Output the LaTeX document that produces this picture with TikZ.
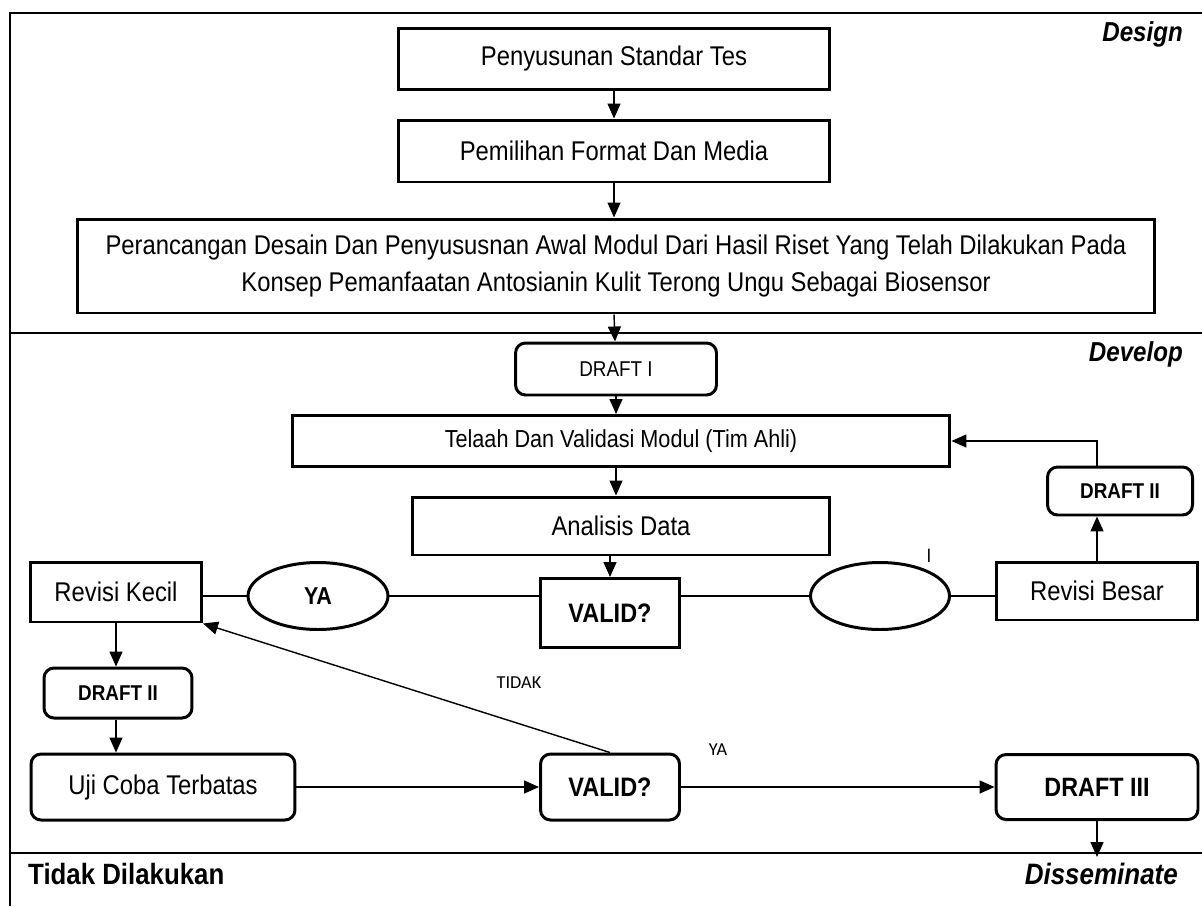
\documentclass[tikz,border=0pt]{standalone}
\usepackage{fontspec}
\setmainfont[FakeStretch=0.88]{Liberation Sans}
\newfontfamily\calfont{Carlito}
\usepackage{tikz}
\usetikzlibrary{shapes.geometric,arrows.meta,positioning,calc}

\tikzset{
    box/.style={draw, line width=1.7pt, inner sep=0pt, align=center, font=\fontsize{15.4}{20.5}\selectfont},
    rbox/.style={box, rounded corners=0.2cm},
    oval/.style={draw, ellipse, line width=1.7pt, inner sep=0pt, font=\bfseries\fontsize{13.9}{16}\selectfont},
    arr/.style={-{Triangle[length=0.3cm,width=0.26cm]}, line width=0.8pt},
    link/.style={line width=0.8pt},
    frame/.style={line width=1.7pt},
    divider/.style={line width=1pt},
    phase/.style={anchor=east, font=\bfseries\itshape\fontsize{15.6}{18}\selectfont},
    note/.style={font=\calfont\fontsize{10.4}{12}\selectfont}
}

\begin{document}
\begin{tikzpicture}[x=0.02cm, y=-0.02cm]
        \useasboundingbox (0,0) rectangle (1202,906);
        % frame and phase lines
        \draw[frame] (10,906) -- (10,13) -- (1202,13);
        \draw[divider] (10,333) -- (1202,333);
        \draw[divider] (10,853) -- (1202,853);
        \node[phase] (design) at (1189,34) {Design};
        \node[phase] (develop) at (1189,354) {Develop};
        \node[phase, font=\bfseries\itshape\fontsize{16.8}{18}\selectfont] (dissem) at (1184,874) {Disseminate};
        \node[anchor=west, font=\bfseries\fontsize{16.7}{18}\selectfont] (tidakdil) at (22,874) {Tidak Dilakukan};

        % design steps
        \node[box, minimum width=8.62cm, minimum height=1.22cm] (standar) at (614,59) {Penyusunan Standar Tes};
        \node[box, minimum width=8.62cm, minimum height=1.24cm] (format) at (614,151) {Pemilihan Format Dan Media};
        \node[box, minimum width=21.56cm, minimum height=1.88cm] (rancang) at (616,266)
            {Perancangan Desain Dan Penyususnan Awal Modul Dari Hasil Riset Yang Telah Dilakukan Pada\\
             Konsep Pemanfaatan Antosianin Kulit Terong Ungu Sebagai Biosensor};

        % develop steps
        \node[rbox, minimum width=4.02cm, minimum height=1.04cm, font=\fontsize{12.2}{14}\selectfont] (draftI) at (616,369) {DRAFT I};
        \node[box, minimum width=13.16cm, minimum height=1.02cm, font=\fontsize{14}{16}\selectfont] (telaah) at (621,441) {Telaah Dan Validasi Modul (Tim Ahli)};
        \node[box, minimum width=8.34cm, minimum height=1.16cm] (analisis) at (621,526) {Analisis Data};
        \node[box, minimum width=2.78cm, minimum height=1.38cm, font=\bfseries\fontsize{15.2}{18}\selectfont] (validA) at (610,613) {VALID?};
        \node[oval, minimum width=2.8cm, minimum height=1.34cm] (ya) at (318,596) {YA};
        \node[oval, minimum width=2.78cm, minimum height=1.34cm] (tidakov) at (880,596) {};
        \node[font=\fontsize{11}{12}\selectfont] (mark) at (929,556) {I};
        \node[box, minimum width=3.42cm, minimum height=1.2cm] (revkecil) at (116,592) {Revisi Kecil};
        \node[box, minimum width=4.02cm, minimum height=1.16cm] (revbesar) at (1097,591) {Revisi Besar};
        \node[rbox, minimum width=2.9cm, minimum height=0.96cm, font=\bfseries\fontsize{12.2}{14}\selectfont] (draftIIr) at (1120,491) {DRAFT II};
        \node[rbox, minimum width=2.96cm, minimum height=1.0cm, font=\bfseries\fontsize{12.2}{14}\selectfont] (draftIIl) at (118,693) {DRAFT II};
        \node[rbox, minimum width=5.28cm, minimum height=1.32cm] (uji) at (163,787) {Uji Coba Terbatas};
        \node[rbox, minimum width=2.78cm, minimum height=1.32cm, font=\bfseries\fontsize{15.2}{18}\selectfont] (validB) at (610,787) {VALID?};
        \node[rbox, minimum width=4.04cm, minimum height=1.3cm, font=\bfseries\fontsize{15.1}{18}\selectfont] (draftIII) at (1097,787) {DRAFT III};
        \node[note] (lbltidak) at (519,683) {TIDAK};
        \node[note] (lblya) at (718,750) {YA};
        \coordinate (disend) at (1097,857);

        % connectors
        \draw[arr] (standar) -- (format);
        \draw[arr] (format) -- (format |- rancang.north);
        \draw[arr] (format |- rancang.south) -- (draftI);
        \draw[arr] (draftI) -- (draftI |- telaah.north);
        \draw[arr] (draftI |- telaah.south) -- (draftI |- analisis.north);
        \draw[arr] (validA |- analisis.south) -- (validA);
        \draw[link] (validA.west |- ya.east) -- (ya.east);
        \draw[link] (ya.west) -- (ya.west -| revkecil.east);
        \draw[link] (validA.east |- tidakov.west) -- (tidakov.west);
        \draw[link] (tidakov.east) -- (tidakov.east -| revbesar.west);
        \draw[arr] (revbesar) -- (revbesar |- draftIIr.south);
        \draw[arr] (revbesar |- draftIIr.north) -- (revbesar |- telaah.east) -- (telaah.east);
        \draw[arr] (revkecil) -- (revkecil |- draftIIl.north);
        \draw[arr] (revkecil |- draftIIl.south) -- (revkecil |- uji.north);
        \draw[arr] (uji) -- (validB);
        \draw[arr] (validB.north) -- (revkecil.south east);
        \draw[arr] (validB) -- (draftIII);
        \draw[arr] (draftIII) -- (disend);
    \end{tikzpicture}
\end{document}
